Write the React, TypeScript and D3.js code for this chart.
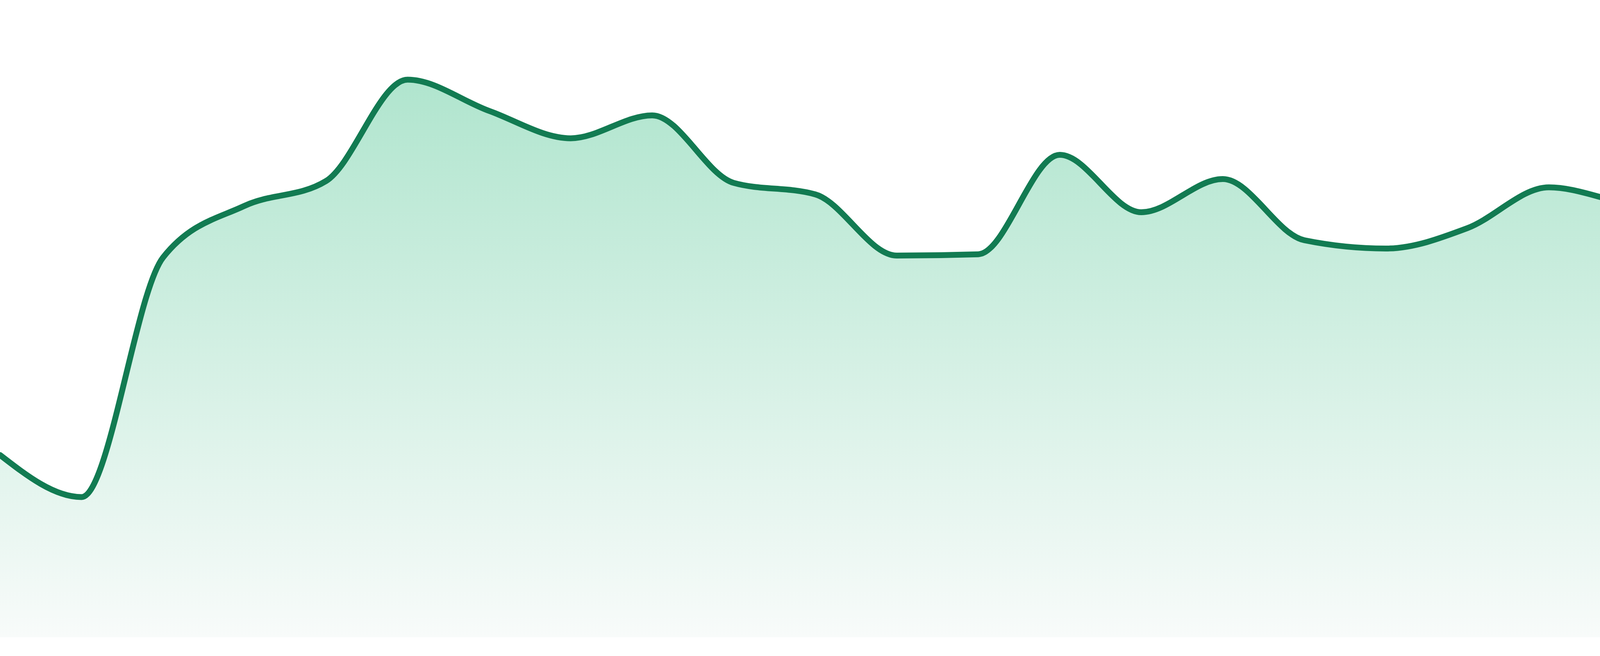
import React, { useRef, useEffect } from 'react';
import * as d3 from 'd3';

// one reading per period, evenly spaced across the width
const periods = Array.from({ length: 24 }, (_, i) => `P${i + 1}`);
const values = [
  28.6, 22.0, 59.6, 67.7, 71.6, 87.5, 82.6, 78.3, 81.9, 71.3, 69.5, 59.9,
  60.1, 75.7, 66.7, 71.9, 62.3, 61.0, 64.2, 70.6, 68.0, 66.9, 70.5, 56.6,
];
const yDomain = [0, 100];

const WIDTH = 4800;
const HEIGHT = 1680;

const AreaSpark: React.FC = () => {
  const svgRef = useRef<SVGSVGElement>(null);

  useEffect(() => {
    if (!svgRef.current) return;
    const svg = d3.select(svgRef.current);
    svg.selectAll('*').remove();

    const margin = { top: 0, right: 0, bottom: 48, left: 0 };
    const innerHeight = HEIGHT - margin.top - margin.bottom;

    const data = periods.map((p, i) => ({ period: p, value: values[i] }));

    const x = d3
      .scalePoint<string>()
      .domain(periods)
      .range([margin.left, WIDTH - margin.right]);

    const y = d3
      .scaleLinear()
      .domain(yDomain)
      .range([margin.top + innerHeight, margin.top]);

    // gradient fill under the line
    const defs = svg.append('defs');
    const grad = defs
      .append('linearGradient')
      .attr('id', 'areaFill')
      .attr('x1', 0)
      .attr('y1', 0)
      .attr('x2', 0)
      .attr('y2', 1);
    grad.append('stop').attr('offset', '0%').attr('stop-color', '#b0e5ce');
    grad.append('stop').attr('offset', '100%').attr('stop-color', '#f8fbfa');

    const area = d3
      .area<{ period: string; value: number }>()
      .x((d) => x(d.period) as number)
      .y0(y(0))
      .y1((d) => y(d.value))
      .curve(d3.curveMonotoneX);

    const line = d3
      .line<{ period: string; value: number }>()
      .x((d) => x(d.period) as number)
      .y((d) => y(d.value))
      .curve(d3.curveMonotoneX);

    svg.append('path').datum(data).attr('d', area).attr('fill', 'url(#areaFill)');

    svg
      .append('path')
      .datum(data)
      .attr('d', line)
      .attr('fill', 'none')
      .attr('stroke', '#127b52')
      .attr('stroke-width', 15)
      .attr('stroke-linecap', 'round')
      .attr('stroke-linejoin', 'round');
  }, []);

  return (
    <svg
      ref={svgRef}
      width={WIDTH}
      height={HEIGHT}
      style={{ position: 'absolute', left: 0, top: 0, background: '#fff' }}
    />
  );
};

export default function App() {
  return <AreaSpark />;
}
